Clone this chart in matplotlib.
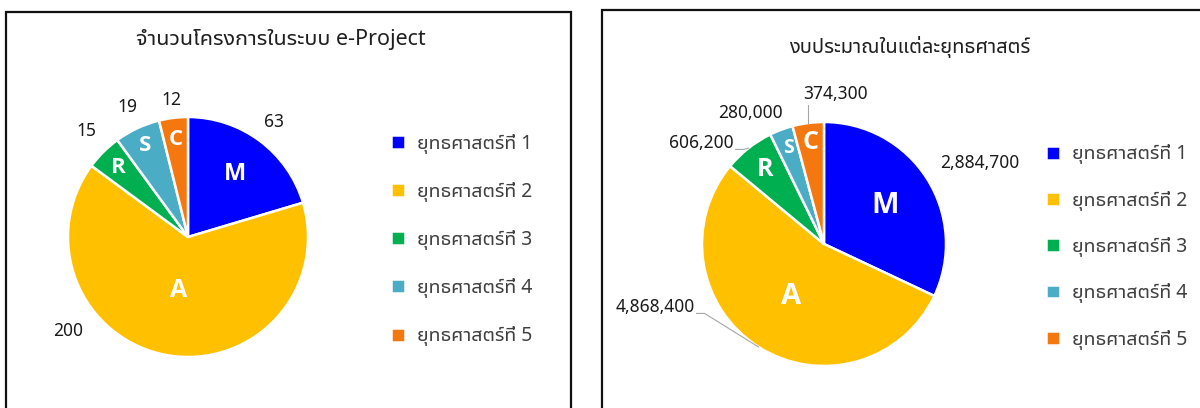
import numpy as np
import matplotlib
matplotlib.use("Agg")
import matplotlib.pyplot as plt
from matplotlib.patches import Rectangle

# Latin text from Noto Sans, Thai glyphs fall back to the loopless Thai UI face
plt.rcParams["font.family"] = ["Noto Sans", "Noto Sans Thai UI", "DejaVu Sans"]

# --- data ---
strategies = ["ยุทธศาสตร์ที่ 1", "ยุทธศาสตร์ที่ 2", "ยุทธศาสตร์ที่ 3",
              "ยุทธศาสตร์ที่ 4", "ยุทธศาสตร์ที่ 5"]
letters = ["M", "A", "R", "S", "C"]
projects = [63, 200, 15, 19, 12]
budget = [2884700, 4868400, 606200, 280000, 374300]
title_projects = "จำนวนโครงการในระบบ e-Project"
title_budget = "งบประมาณในแต่ละยุทธศาสตร์"

colors = ["#0000FF", "#FFC000", "#00B050", "#4BACC6", "#F4770F"]
W, H = 1200, 408

fig = plt.figure(figsize=(W / 100, H / 100), dpi=100)
ax = fig.add_axes([0, 0, 1, 1])
ax.set_xlim(0, W)
ax.set_ylim(0, H)
ax.axis("off")

# panel frames (they run past the bottom / right edge like the screenshot)
ax.add_patch(Rectangle((5.5, -20), 565, H - 12 + 20, fill=False, lw=1.6, ec="#111111"))
ax.add_patch(Rectangle((602, -20), 640, H - 10 + 20, fill=False, lw=1.6, ec="#111111"))


def draw_pie(values, center, radius, fmt, letter_r, letter_size,
             label_r, label_shift, leaders, legend_xy):
    wedges, _ = ax.pie(values, colors=colors, startangle=90, counterclock=False,
                       center=center, radius=radius, frame=True,
                       wedgeprops=dict(edgecolor="white", linewidth=1.8))
    cx, cy = center
    for i, w in enumerate(wedges):
        mid = np.deg2rad((w.theta1 + w.theta2) / 2)
        # white letter inside the slice
        ax.text(cx + letter_r[i] * radius * np.cos(mid),
                cy + letter_r[i] * radius * np.sin(mid), letters[i],
                color="white", fontsize=letter_size[i], fontweight="bold",
                family=["Open Sans", "DejaVu Sans"],
                ha="center", va="center")
        # value label outside
        ang = mid + np.deg2rad(label_shift[i])
        lx = cx + label_r[i] * radius * np.cos(ang)
        ly = cy + label_r[i] * radius * np.sin(ang)
        t = ax.text(lx, ly, fmt(values[i]), fontsize=12.5, color="#1a1a1a",
                    ha="center", va="center")
        if leaders[i]:
            fig.canvas.draw()
            bb = t.get_window_extent()
            ex = cx + radius * np.cos(mid)
            ey = cy + radius * np.sin(mid)
            if leaders[i] == "h":
                xs = [bb.x1 + 2, bb.x1 + 10, ex]
                ys = [bb.y0 + 3, bb.y0 + 3, ey]
            else:
                xs = [ex, ex]
                ys = [bb.y0 - 2, ey]
            ax.plot(xs, ys, color="#A6A6A6", lw=0.8)
    ax.legend(wedges, strategies, loc="center left", bbox_to_anchor=legend_xy,
              bbox_transform=ax.transData, frameon=False, fontsize=14,
              handlelength=0.72, handleheight=0.72, handletextpad=0.6,
              labelspacing=legend_gap, borderpad=0, borderaxespad=0,
              labelcolor="#404040")
    return wedges


# left pie: number of projects
legend_gap = 1.45
draw_pie(projects, (188, H - 237), 120, lambda v: f"{v}",
         letter_r=[0.65, 0.45, 0.82, 0.84, 0.82],
         letter_size=[17, 18, 16, 16, 16],
         label_r=[1.2, 1.27, 1.22, 1.2, 1.15],
         label_shift=[0, -42, -1, 0, 0],
         leaders=[None] * 5, legend_xy=(391, H - 240))
leg1 = ax.get_legend()
ax.add_artist(leg1)

# right pie: budget
legend_gap = 1.35
draw_pie(budget, (824, H - 244), 122, lambda v: f"{v:,}",
         letter_r=[0.59, 0.51, 0.78, 0.84, 0.84],
         letter_size=[21, 21, 18, 14, 18],
         label_r=[1.44, 1.48, 1.30, 1.23, 1.23],
         label_shift=[-5, -37, 12.4, 8.6, -12],
         leaders=[None, "h", "h", None, "v"], legend_xy=(1046, H - 247))

ax.set_xlim(0, W)
ax.set_ylim(0, H)
ax.set_aspect("auto")

ax.text(281, H - 40, title_projects, fontsize=15.5, color="#202020",
        ha="center", va="center")
ax.text(910, H - 47, title_budget, fontsize=14.5, color="#202020",
        ha="center", va="center")

fig.savefig("out.png", dpi=100)
